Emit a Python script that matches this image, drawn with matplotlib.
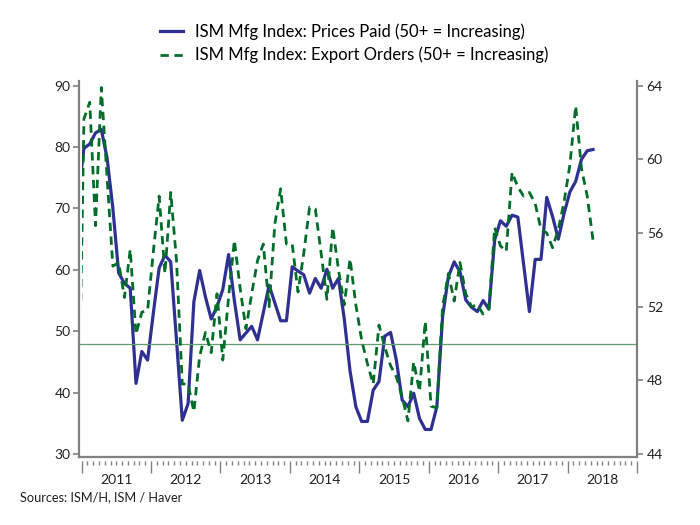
import numpy as np
import matplotlib.pyplot as plt
from matplotlib.patches import Rectangle
from matplotlib.lines import Line2D

plt.rcParams['font.family'] = ['Lato', 'DejaVu Sans']

# monthly, Dec 2010 .. May 2018
years = ['2011', '2012', '2013', '2014', '2015', '2016', '2017', '2018']

prices_paid = [
    72.0,
    79.8, 80.5, 82.3, 82.9, 78.2, 70.0, 59.5, 57.8, 57.0, 41.5, 46.7, 45.3,
    53.0, 60.3, 62.4, 61.3, 48.5, 35.5, 38.2, 54.8, 59.9, 55.6, 52.0, 54.0,
    56.8, 62.5, 55.0, 48.6, 49.7, 50.8, 48.6, 53.0, 57.5, 54.6, 51.7, 51.7,
    60.5, 59.8, 59.2, 56.2, 58.6, 57.0, 60.1, 57.0, 58.6, 52.0, 43.5, 37.7,
    35.3, 35.3, 40.4, 41.8, 49.2, 49.8, 45.3, 38.8, 37.7, 39.9, 35.8, 34.0,
    34.0, 37.7, 52.4, 58.9, 61.3, 59.7, 55.1, 53.9, 53.2, 55.0, 53.6, 64.9,
    68.0, 67.1, 68.9, 68.6, 60.9, 53.2, 61.7, 61.7, 71.8, 68.7, 65.0, 69.2,
    72.7, 74.4, 78.0, 79.4, 79.6,
]

export_orders = [
    44.0,
    62.2, 63.1, 56.4, 63.9, 59.0, 54.2, 54.4, 52.5, 55.1, 50.5, 51.7, 51.8,
    55.0, 58.0, 53.8, 58.2, 54.5, 47.8, 47.8, 46.3, 49.3, 50.6, 49.5, 52.7,
    49.1, 52.5, 55.6, 53.0, 50.8, 52.7, 54.5, 55.4, 52.0, 56.5, 58.4, 55.4,
    55.4, 52.8, 54.9, 57.4, 57.3, 54.9, 52.4, 56.3, 54.0, 52.1, 54.6, 52.1,
    50.2, 48.9, 47.8, 51.0, 49.8, 48.8, 48.2, 47.1, 45.8, 49.0, 47.4, 51.2,
    46.6, 46.5, 52.0, 53.8, 52.3, 54.4, 52.7, 52.0, 52.1, 51.6, 51.9, 56.3,
    55.3, 55.0, 59.3, 58.5, 58.0, 58.2, 57.6, 56.2, 56.0, 55.2, 56.2, 57.7,
    59.7, 62.9, 59.5, 58.0, 55.6,
]

labels = ['ISM Mfg Index: Prices Paid (50+ = Increasing)',
          'ISM Mfg Index: Export Orders (50+ = Increasing)']

blue = '#2e3192'
green = '#006e28'
gray = '#808080'

fig = plt.figure(figsize=(7, 5.25), dpi=100)
ax = fig.add_axes([0.1129, 0.1295, 0.7971, 0.7168])
ax2 = ax.twinx()

# months since Jan 2011, points sit near mid-month
x = np.arange(len(prices_paid)) - 1 + 0.4

l1, = ax.plot(x, prices_paid, color=blue, lw=2.3)
l2, = ax2.plot(x, export_orders, color=green, lw=2.0, dashes=(3, 2))
ax2.axhline(50, color='#5f9f70', lw=0.9, zorder=1)

# lines start at the first year tick
l1.set_clip_path(Rectangle((0, 0), 200, 1, transform=ax.get_xaxis_transform()))
l2.set_clip_path(Rectangle((0, 0), 200, 1, transform=ax2.get_xaxis_transform()))

ax.set_xlim(-0.45, 96)
ax.set_ylim(29.51, 90.81)
ax2.set_ylim(44 + (29.51 - 30) / 3, 44 + (90.81 - 30) / 3)

ax.set_yticks(range(30, 91, 10))
ax2.set_yticks(range(44, 65, 4))

ax.set_xticks(np.arange(0, 97, 12))
ax.set_xticks(np.arange(0, 97), minor=True)
ax.tick_params(axis='x', which='major', length=8.5, width=1, color=gray,
               labelbottom=False)
ax.tick_params(axis='x', which='minor', length=3, width=1, color=gray)
ax.tick_params(axis='y', length=4.5, width=1.2, color=gray, pad=1.5,
               labelsize=10, labelcolor='#222222')
ax2.tick_params(axis='y', length=4.5, width=1.2, color=gray, pad=2.5,
                labelsize=10, labelcolor='#222222')

sec = ax.secondary_xaxis('bottom')
sec.set_xticks(np.arange(6, 96, 12), labels=years)
sec.tick_params(length=0, pad=12.5, labelsize=10, labelcolor='#222222')
sec.spines['bottom'].set_visible(False)

for a in (ax, ax2):
    a.spines['top'].set_visible(False)
ax.spines['right'].set_visible(False)
ax2.spines['left'].set_visible(False)
ax2.spines['bottom'].set_visible(False)
ax.spines['left'].set_color(gray)
ax.spines['left'].set_linewidth(1.6)
ax2.spines['right'].set_color(gray)
ax2.spines['right'].set_linewidth(1.6)
# ticks hang a little below the bottom line
ax.spines['bottom'].set_position(('outward', 3))
ax.spines['bottom'].set_color('none')
ax.plot([0, 1], [0, 0], transform=ax.transAxes, color=gray, lw=1.6,
        clip_on=False, solid_capstyle='projecting')

handles = [Line2D([], [], color=blue, lw=2.3),
           Line2D([], [], color=green, lw=2.0, dashes=(3, 2))]
fig.legend(handles, labels, loc='center left',
           bbox_to_anchor=(160 / 700, 1 - 43.5 / 525), frameon=False,
           fontsize=12, handlelength=1.35, handletextpad=0.75,
           labelspacing=0.4, borderpad=0, borderaxespad=0)

fig.text(20 / 700, 1 - 497 / 525, 'Sources: ISM/H, ISM / Haver',
         fontsize=9.2, va='center', color='#222222')

fig.savefig('out.png', dpi=100)
